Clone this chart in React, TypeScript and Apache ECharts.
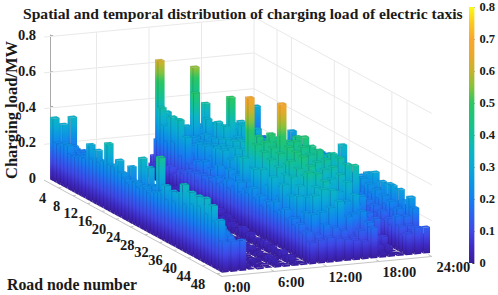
import React, { useEffect, useRef } from "react";
import * as echarts from "echarts";

const titleText = "Spatial and temporal distribution of charging load of electric taxis";
const zTitle = "Charging load/MW";
const nodeTitle = "Road node number";
const nodeTicks = [4, 8, 12, 16, 20, 24, 28, 32, 36, 40, 44, 48];
const timeTicks = ["0:00", "6:00", "12:00", "18:00", "24:00"];
const zTicks = [0.2, 0.4, 0.6, 0.8];
const sideWallNodes = [6.4, 10.4, 22.3, 26.4, 38.3, 42.5];

const colorStops: [number, string][] = [
  [0, "#3a1c9a"], [0.05, "#3f2bc4"], [0.1, "#3f48e6"], [0.15, "#2c63f0"], [0.2, "#1580f0"],
  [0.25, "#0d95e4"], [0.3, "#0ba9d6"], [0.35, "#0cb5c4"], [0.4, "#12bf9c"], [0.45, "#1cc47c"],
  [0.5, "#2cc664"], [0.55, "#86c23c"], [0.6, "#c4b42c"], [0.65, "#eaa82c"], [0.7, "#f8a82e"],
  [0.75, "#fcc820"], [0.8, "#f9fb14"],
];

const slot00 = [.35,.22,.22,.24,.24,.20,.20,.21,.22,.22,.31,.24,.30,.24,.26,.37,.26,.26,.31,.25,.23,.21,.24,.24,.22,.24,.23,.22,.24,.25,.26,.31,.24,.30,.25,.31,.37,.27,.35,.29,.35,.3,.36,.28,.34,.26,.28,.17];
const slot01 = [.31,.20,.19,.22,.20,.18,.21,.19,.20,.18,.22,.17,.20,.19,.18,.22,.20,.16,.21,.28,.19,.20,.36,.22,.33,.24,.20,.42,.24,.22,.25,.26,.24,.27,.25,.28,.24,.26,.25,.24,.26,.25,.23,.24,.22,.20,.19,.17];
const slot02 = [.345,.18,.15,.19,.16,.14,.17,.15,.13,.16,.14,.12,.15,.13,.16,.12,.14,.15,.11,.13,.15,.12,.16,.14,.13,.15,.17,.14,.16,.13,.15,.17,.16,.14,.18,.16,.15,.17,.14,.16,.15,.13,.16,.14,.15,.13,.14,.17];
const slot03 = [0,0,0,0,0,0,0,0,0,0,0,0,.01,.02,.01,.03,.01,.02,.02,.01,.03,.02,.01,.02,.03,.01,.02,.01,.02,.01,.003,.003,.01,.003,.003,.01,.003,.003,.01,.003,.02,.003,.003,.01,.003,.01,.02,.003];
const slot04 = [0,0,0,0,0,0,0,0,.01,.01,.02,.01,.02,.01,.03,.02,.01,.02,.01,.03,.02,.01,.02,.01,.03,.02,.01,.02,.02,.01,.03,.02,.01,.02,.03,.02,.01,.02,.02,.03,.01,.02,.03,.02,.01,.03,.02,.01];
const slot05 = [0,0,0,0,0,0,0,0,.01,.02,.01,.01,.03,.01,.02,.01,.02,.03,.01,.02,.01,.02,.03,.01,.02,.01,.02,.01,.003,.01,.003,.003,.01,.003,.003,.02,.003,.003,.01,.003,.003,.01,.003,.003,.02,.003,.01,.003];
const slot06 = [0,0,0,0,0,0,0,0,.02,.01,.02,.03,.01,.02,.03,.01,.02,.01,.03,.02,.01,.03,.02,.01,.02,.03,.01,.02,.03,.02,.01,.03,.02,.04,.02,.01,.03,.02,.03,.01,.04,.02,.03,.01,.02,.04,.03,.02];
const slot07 = [0,0,0,0,0,0,0,0,.01,.03,.02,.01,.02,.03,.02,.04,.01,.02,.03,.02,.01,.03,.04,.02,.01,.03,.02,.04,.003,.02,.003,.01,.003,.003,.02,.003,.01,.003,.003,.02,.003,.003,.01,.003,.02,.003,.003,.01];
const slot08 = [0,0,0,0,0,0,0,0,.02,.03,.02,.04,.03,.02,.05,.03,.04,.02,.03,.05,.02,.04,.03,.05,.02,.04,.03,.05,.04,.02,.05,.03,.04,.06,.03,.05,.02,.04,.03,.05,.02,.04,.03,.02,.05,.03,.04,.02];
const slot09 = [0,0,0,0,0,0,0,0,.03,.02,.04,.03,.05,.02,.04,.06,.03,.05,.04,.02,.06,.03,.05,.04,.06,.03,.05,.04,.003,.02,.003,.003,.02,.003,.003,.01,.003,.003,.02,.003,.003,.01,.003,.003,.02,.003,.003,.01];
const slot10 = [0,0,0,.08,.05,.04,.1,.06,.12,.08,.1,.13,.12,.15,.14,.16,.12,.17,.15,.18,.16,.2,.17,.19,.22,.18,.2,.24,.19,.22,.21,.25,.2,.23,.18,.22,.2,.24,.19,.21,.23,.18,.2,.17,.19,.15,.17,.12];
const slot11 = [0,.1,.2,.39,.3,.22,.37,.24,.375,.18,.30,.16,.14,.2,.15,.22,.16,.2,.14,.24,.17,.2,.25,.16,.24,.18,.36,.24,.18,.33,.22,.35,.2,.28,.34,.2,.25,.33,.19,.29,.18,.31,.2,.24,.16,.25,.15,.13];
const slot12 = [.615,.2,.35,.24,.18,.34,.22,.26,.18,.24,.2,.27,.18,.28,.2,.24,.3,.2,.31,.22,.28,.2,.32,.24,.28,.68,.3,.44,.28,.42,.3,.4,.26,.38,.28,.36,.24,.37,.22,.34,.26,.3,.2,.33,.18,.26,.2,.14];
const slot13 = [.2,.15,.25,.18,.27,.3,.2,.26,.17,.26,.2,.27,.18,.28,.2,.3,.22,.31,.21,.33,.24,.34,.25,.36,.27,.46,.3,.45,.32,.44,.3,.43,.28,.39,.42,.27,.4,.25,.38,.41,.26,.35,.2,.36,.22,.28,.18,.13];
const slot14 = [.24,.16,.25,.2,.27,.48,.2,.26,.28,.18,.28,.2,.3,.22,.32,.24,.33,.26,.35,.25,.36,.28,.38,.27,.4,.32,.48,.34,.45,.68,.38,.46,.3,.455,.32,.45,.3,.42,.28,.4,.26,.38,.24,.35,.2,.31,.16,.12];
const slot15 = [.2,.14,.24,.18,.27,.2,.34,.22,.24,.355,.23,.355,.25,.3,.26,.32,.25,.33,.27,.34,.26,.35,.28,.36,.29,.44,.3,.43,.28,.42,.26,.41,.28,.38,.25,.37,.24,.33,.22,.34,.2,.32,.18,.27,.15,.22,.12,.11];
const slot16 = [.56,.22,.26,.39,.2,.3,.2,.31,.22,.33,.5,.25,.3,.26,.31,.27,.32,.28,.33,.29,.34,.3,.35,.32,.37,.31,.43,.3,.45,.32,.44,.28,.42,.26,.4,.24,.38,.2,.35,.22,.3,.16,.27,.14,.22,.12,.15,.1];
const slot17 = [.15,.24,.16,.27,.18,.28,.19,.3,.33,.22,.31,.35,.24,.3,.25,.31,.26,.32,.27,.34,.28,.35,.29,.34,.38,.31,.45,.33,.47,.34,.44,.32,.44,.29,.41,.26,.39,.24,.37,.2,.35,.18,.3,.14,.23,.12,.19,.17];
const slot18 = [.16,.18,.2,.22,.19,.24,.26,.23,.335,.27,.25,.29,.27,.3,.28,.31,.29,.33,.3,.34,.32,.35,.33,.36,.34,.37,.35,.38,.36,.39,.37,.36,.34,.35,.32,.33,.3,.28,.26,.24,.22,.19,.17,.15,.12,.1,.06,.03];
const slot19 = [.12,.15,.1,.2,.12,.22,.13,.24,.15,.26,.31,.18,.27,.18,.29,.2,.28,.19,.3,.2,.33,.22,.3,.2,.32,.23,.34,.24,.36,.26,.38,.40,.28,.40,.27,.385,.28,.40,.22,.25,.14,.18,.1,.17,.08,.09,.05,.02];
const slot20 = [.1,.12,.14,.11,.15,.13,.16,.12,.17,.14,.18,.15,.16,.19,.17,.2,.16,.18,.2,.17,.19,.16,.2,.18,.21,.19,.22,.2,.18,.21,.19,.17,.2,.16,.18,.15,.13,.11,.09,.07,.05,.03,.01,.003,.01,.003,.003,.01];
const slot21 = [0,.08,.1,.12,.09,.13,.11,.14,.1,.15,.12,.16,.13,.17,.14,.15,.18,.16,.19,.15,.17,.2,.18,.16,.2,.17,.19,.22,.2,.23,.21,.19,.22,.18,.2,.17,.19,.16,.18,.15,.17,.13,.15,.12,.185,.14,.1,.12];
const slot22 = [0,.1,.08,.12,.14,.1,.13,.15,.11,.14,.16,.12,.15,.17,.13,.16,.18,.14,.17,.19,.15,.18,.2,.16,.19,.17,.2,.22,.21,.24,.2,.23,.26,.22,.25,.21,.24,.2,.23,.19,.22,.18,.2,.16,.18,.14,.12,.15];
const slot23 = [.31,.12,.16,.1,.17,.12,.15,.21,.12,.2,.28,.14,.22,.15,.24,.16,.23,.14,.25,.16,.26,.18,.27,.17,.355,.18,.22,.15,.21,.24,.16,.275,.2,.30,.22,.27,.2,.28,.28,.2,.28,.2,.24,.27,.22,.12,.09,.145];

const slots = [slot00, slot01, slot02, slot03, slot04, slot05, slot06, slot07, slot08, slot09, slot10, slot11,
  slot12, slot13, slot14, slot15, slot16, slot17, slot18, slot19, slot20, slot21, slot22, slot23];

const T_MIN = -0.7;
const T_MAX = 23.3;
const N_MAX = 49.4;
const BAR_T = 0.75;
const BAR_N = 0.8;
const SERIF = "'Liberation Serif','Times New Roman',serif";
const INK = "#1a1a1a";

function hex(c: string) {
  return [parseInt(c.slice(1, 3), 16), parseInt(c.slice(3, 5), 16), parseInt(c.slice(5, 7), 16)];
}
function colorAt(v: number) {
  for (let i = 1; i < colorStops.length; i++) {
    const [a, ca] = colorStops[i - 1];
    const [b, cb] = colorStops[i];
    if (v <= b) {
      const f = (v - a) / (b - a);
      const x = hex(ca);
      const y = hex(cb);
      return `rgb(${x.map((q, k) => Math.round(q + (y[k] - q) * f)).join(",")})`;
    }
  }
  return colorStops[colorStops.length - 1][1];
}
function stopsTo(h: number) {
  const out = colorStops.filter((s) => s[0] < h).map((s) => ({ offset: s[0] / h, color: s[1] }));
  out.push({ offset: 1, color: colorAt(h) });
  return out;
}
function project(api: any, t: number, n: number, z: number): number[] {
  const p = api.coord([t, z]);
  return [p[0] + n * 3.6, p[1] + 1.5 - 0.83 * t + n * 1.95];
}
function faceFill(a: number[], b: number[], topA: number[], h: number) {
  const ex = b[0] - a[0];
  const ey = b[1] - a[1];
  const len = Math.hypot(ex, ey);
  let nx = -ey / len;
  let ny = ex / len;
  if (ny > 0) { nx = -nx; ny = -ny; }
  const d = (topA[0] - a[0]) * nx + (topA[1] - a[1]) * ny;
  return {
    type: "linear", global: true, x: a[0], y: a[1], x2: a[0] + nx * d, y2: a[1] + ny * d,
    colorStops: stopsTo(h),
  };
}

function renderBar(_: any, api: any) {
  const t = api.value(0);
  const n = api.value(1);
  const h = api.value(2);
  const t1 = t + BAR_T;
  const n1 = n + BAR_N;
  const b0 = project(api, t, n, 0);
  const b1 = project(api, t, n1, 0);
  const b2 = project(api, t1, n1, 0);
  const a0 = project(api, t, n, h);
  const a1 = project(api, t, n1, h);
  const a2 = project(api, t1, n1, h);
  const a3 = project(api, t1, n, h);
  const children: any[] = [];
  if (h > 0.006) {
    const lf = faceFill(b0, b1, a0, h);
    const rf = faceFill(b1, b2, a1, h);
    children.push({
      type: "polygon", shape: { points: [b0, b1, a1, a0] },
      style: { fill: lf, stroke: "rgba(15,10,70,0.08)", lineWidth: 0.3 },
    });
    children.push({
      type: "polygon", shape: { points: [b1, b2, a2, a1] },
      style: { fill: rf, stroke: "rgba(15,10,70,0.08)", lineWidth: 0.3 },
    });
    children.push({
      type: "line", shape: { x1: b1[0], y1: b1[1], x2: a1[0], y2: a1[1] },
      style: { stroke: "rgba(15,10,70,0.25)", lineWidth: 0.5 },
    });
  }
  children.push({
    type: "polygon", shape: { points: [a0, a1, a2, a3] },
    style: { fill: colorAt(h), stroke: "rgba(15,10,70,0.22)", lineWidth: 0.3 },
  });
  return { type: "group", children };
}

function renderWalls(_: any, api: any) {
  const children: any[] = [];
  const style = { stroke: "#e9e9e9", lineWidth: 1, fill: "none" };
  zTicks.forEach((z) => {
    children.push({
      type: "polyline",
      shape: { points: [project(api, T_MIN, 0, z), project(api, T_MAX, 0, z), project(api, T_MAX, N_MAX, z)] },
      style,
    });
  });
  timeTicks.forEach((_l, k) => {
    const t = T_MIN + 6 * k;
    if (k === 0) return;
    children.push({
      type: "line",
      shape: { x1: project(api, t, 0, 0)[0], y1: project(api, t, 0, 0)[1], x2: project(api, t, 0, 0.8)[0], y2: project(api, t, 0, 0.8)[1] },
      style,
    });
  });
  sideWallNodes.forEach((n) => {
    const a = project(api, T_MAX, n, 0);
    const b = project(api, T_MAX, n, 0.8);
    children.push({ type: "line", shape: { x1: a[0], y1: a[1], x2: b[0], y2: b[1] }, style });
  });
  return { type: "group", children };
}

function renderFloorEdges(_: any, api: any) {
  const style = { stroke: "#c4c4c4", lineWidth: 1, fill: "none" };
  const children: any[] = [{
    type: "polyline",
    shape: { points: [project(api, T_MIN, 0, 0), project(api, T_MIN, N_MAX, 0), project(api, T_MAX, N_MAX, 0)] },
    style,
  }];
  nodeTicks.forEach((n) => {
    const a = project(api, T_MIN, n, 0);
    const b = project(api, T_MIN + 0.35, n, 0);
    children.push({ type: "line", shape: { x1: a[0], y1: a[1], x2: b[0], y2: b[1] }, style });
  });
  timeTicks.forEach((_l, k) => {
    const t = T_MIN + 6 * k;
    const a = project(api, t, N_MAX, 0);
    const b = project(api, t, N_MAX - 1, 0);
    children.push({ type: "line", shape: { x1: a[0], y1: a[1], x2: b[0], y2: b[1] }, style });
  });
  return { type: "group", children };
}

function labelStyle(text: string, x: number, y: number) {
  return {
    type: "text",
    style: {
      text, x, y, fill: INK, fontFamily: SERIF, fontWeight: "bold", fontSize: 14.5,
      align: "center", verticalAlign: "middle",
    },
  };
}
function renderNodeLabel(params: any, api: any) {
  const n = nodeTicks[params.dataIndex];
  const p = project(api, T_MIN, n, 0);
  return labelStyle(String(n), p[0] - 15.5 - 0.07 * n, p[1] + 10);
}
function renderTimeLabel(params: any, api: any) {
  const k = params.dataIndex;
  const p = project(api, T_MIN + 6 * k, N_MAX, 0);
  return labelStyle(timeTicks[k], p[0] + 15.5 + 1.5 * k, p[1] + 10.5);
}

const barData: number[][] = [];
for (let n = 0; n < 48; n++) {
  for (let t = 23; t >= 0; t--) {
    const v = slots[t][n];
    if (v > 0) barData.push([t, n, v]);
  }
}

export default function App() {
  const ref = useRef<HTMLDivElement>(null);
  useEffect(() => {
    document.body.style.margin = "0";
    const chart = echarts.init(ref.current!, undefined, { renderer: "svg" });
    const custom = {
      type: "custom", coordinateSystem: "cartesian2d", xAxisIndex: 0, yAxisIndex: 0, clip: false, silent: true,
    };
    chart.setOption({
      animation: false,
      backgroundColor: "#fff",
      title: {
        text: titleText, left: 18, top: 0,
        textStyle: { fontFamily: SERIF, fontWeight: "bold", fontSize: 15.6, color: INK },
      },
      grid: [
        { left: 44, top: 35, width: 210, height: 143 },
        { left: 469, top: 7, width: 7, height: 256 },
      ],
      xAxis: [
        { type: "value", gridIndex: 0, min: T_MIN, max: T_MAX, show: false },
        { type: "category", gridIndex: 1, data: ["load"], show: false },
      ],
      yAxis: [
        {
          type: "value", gridIndex: 0, min: 0, max: 0.8, interval: 0.2,
          splitLine: { show: false },
          axisLine: { show: true, lineStyle: { color: "#a8a8a8", width: 1 } },
          axisTick: { show: true, inside: true, length: 3, lineStyle: { color: "#a8a8a8" } },
          axisLabel: { margin: 8, fontFamily: SERIF, fontWeight: "bold", fontSize: 14.5, color: INK },
        },
        {
          type: "value", gridIndex: 1, min: 0, max: 0.8, interval: 0.1, position: "right",
          splitLine: { show: false },
          axisLine: { show: false },
          axisTick: { show: true, inside: true, length: 2, lineStyle: { color: "#333" } },
          axisLabel: { margin: 5, fontFamily: SERIF, fontWeight: "bold", fontSize: 12.5, color: INK },
        },
      ],
      graphic: [
        {
          type: "text", x: 11, y: 110, rotation: Math.PI / 2,
          style: {
            text: zTitle, fill: INK, fontFamily: SERIF, fontWeight: "bold", fontSize: 16.5,
            align: "center", verticalAlign: "middle",
          },
        },
        {
          type: "text", x: 7, y: 284,
          style: {
            text: nodeTitle, fill: INK, fontFamily: SERIF, fontWeight: "bold", fontSize: 15.8,
            align: "left", verticalAlign: "middle",
          },
        },
      ],
      series: [
        { ...custom, z: 1, data: [[0, 0, 0]], renderItem: renderWalls },
        { ...custom, z: 2, data: [[0, 0, 0]], renderItem: renderFloorEdges },
        { ...custom, z: 3, data: barData, renderItem: renderBar },
        { ...custom, z: 4, data: nodeTicks.map((n) => [0, n, 0]), renderItem: renderNodeLabel },
        { ...custom, z: 4, data: timeTicks.map((_l, k) => [k * 6, 0, 0]), renderItem: renderTimeLabel },
        {
          type: "bar", xAxisIndex: 1, yAxisIndex: 1, data: [0.8], barWidth: "100%", silent: true,
          itemStyle: {
            color: {
              type: "linear", x: 0, y: 1, x2: 0, y2: 0,
              colorStops: colorStops.map((s) => ({ offset: s[0] / 0.8, color: s[1] })),
            },
          },
        },
      ],
    });
    return () => chart.dispose();
  }, []);
  return <div ref={ref} style={{ position: "absolute", left: 0, top: 0, width: 498, height: 295 }} />;
}
